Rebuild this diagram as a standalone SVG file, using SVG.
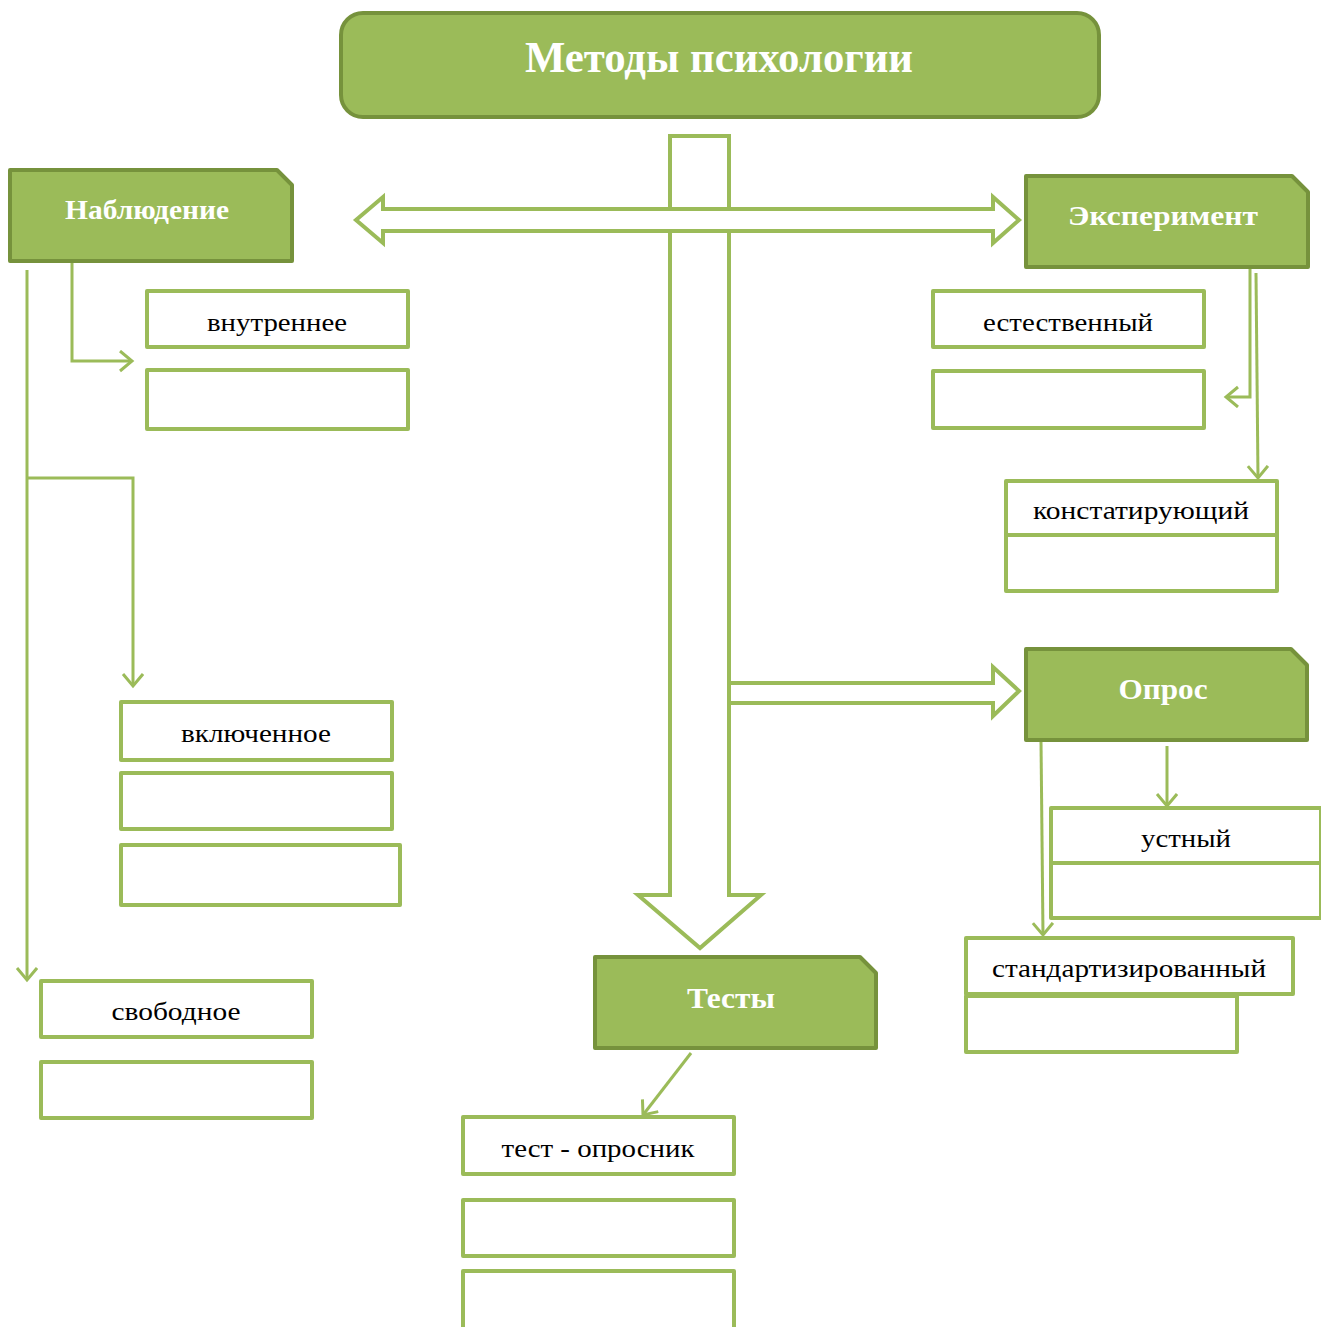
<svg xmlns="http://www.w3.org/2000/svg" width="1321" height="1327" viewBox="0 0 1321 1327">
<style>
.main{fill:#9BBB59;stroke:#76923C;stroke-width:4;stroke-linejoin:round}
.box{fill:#fff;stroke:#9BBB59;stroke-width:4;stroke-linejoin:round}
.big{fill:#fff;stroke:#9BBB59;stroke-width:4;stroke-linejoin:miter}
.con{fill:none;stroke:#9BBB59;stroke-width:3}
.ht{font-family:"Liberation Serif","Times New Roman",serif;font-weight:bold;fill:#fff;text-anchor:middle}
.bt{font-family:"Liberation Serif","Times New Roman",serif;font-size:26px;fill:#000;text-anchor:middle}
</style>
<defs>
<marker id="ah" markerUnits="userSpaceOnUse" markerWidth="16" markerHeight="24" refX="13" refY="11" orient="auto" viewBox="0 0 16 24">
<path d="M1,1 L13,11 L1,21" fill="none" stroke="#9BBB59" stroke-width="3"/>
</marker>
</defs>
<rect width="1321" height="1327" fill="#fff"/>

<g id="arrows-big">
<path class="big" d="M670,136 L729,136 L729,895 L761,895 L700,948 L638,895 L670,895 Z"/>
<path class="big" d="M356,220 L383,197 L383,209 L993,209 L993,197 L1019,220 L993,243 L993,231 L383,231 L383,243 Z"/>
<path class="big" d="M731,683 L993,683 L993,667 L1019,691 L993,716 L993,703 L731,703"/>
<line x1="729" y1="670" x2="729" y2="716" stroke="#9BBB59" stroke-width="4"/>
</g>

<g id="connectors">
<polyline class="con" points="72,262 72,361 132,361" marker-end="url(#ah)"/>
<polyline class="con" points="27,270 27,980" marker-end="url(#ah)"/>
<polyline class="con" points="27,478 133,478 133,686" marker-end="url(#ah)"/>
<polyline class="con" points="1250,267 1250,397 1226,397" marker-end="url(#ah)"/>
<polyline class="con" points="1256,273 1258,478" marker-end="url(#ah)"/>
<polyline class="con" points="1041,741 1043,935" marker-end="url(#ah)"/>
<polyline class="con" points="1167,746 1167,806" marker-end="url(#ah)"/>
<polyline class="con" points="691,1053 643,1115" marker-end="url(#ah)"/>
</g>

<g id="title">
<rect class="main" x="341" y="13" width="758" height="104" rx="22" ry="22"/>
<text class="ht" x="719" y="72" font-size="44" textLength="388" lengthAdjust="spacingAndGlyphs">Методы психологии</text>
</g>

<g id="nablyudenie">
<path class="main" d="M10,170 L277,170 L292,185 L292,261 L10,261 Z"/>
<text class="ht" x="147" y="219" font-size="27" textLength="164" lengthAdjust="spacingAndGlyphs">Наблюдение</text>
</g>

<g id="eksperiment">
<path class="main" d="M1026,176 L1292,176 L1308,192 L1308,267 L1026,267 Z"/>
<text class="ht" x="1163" y="225" font-size="27" textLength="190" lengthAdjust="spacingAndGlyphs">Эксперимент</text>
</g>

<g id="opros">
<path class="main" d="M1026,649 L1291,649 L1307,665 L1307,740 L1026,740 Z"/>
<text class="ht" x="1163" y="699" font-size="29" textLength="89" lengthAdjust="spacingAndGlyphs">Опрос</text>
</g>

<g id="testy">
<path class="main" d="M595,957 L860,957 L876,973 L876,1048 L595,1048 Z"/>
<text class="ht" x="731" y="1008" font-size="29" textLength="88" lengthAdjust="spacingAndGlyphs">Тесты</text>
</g>

<g id="vnutrennee">
<rect class="box" x="147" y="291" width="261" height="56"/>
<text class="bt" x="277" y="331" textLength="140" lengthAdjust="spacingAndGlyphs">внутреннее</text>
</g>
<g id="vnutrennee-2"><rect class="box" x="147" y="370" width="261" height="59"/></g>

<g id="estestvenny">
<rect class="box" x="933" y="291" width="271" height="56"/>
<text class="bt" x="1068" y="331" textLength="170" lengthAdjust="spacingAndGlyphs">естественный</text>
</g>
<g id="estestvenny-2"><rect class="box" x="933" y="371" width="271" height="57"/></g>

<g id="konstatiruyushchiy">
<rect class="box" x="1006" y="481" width="271" height="54"/>
<text class="bt" x="1141" y="519" textLength="216" lengthAdjust="spacingAndGlyphs">констатирующий</text>
</g>
<g id="konstatiruyushchiy-2"><rect class="box" x="1006" y="535" width="271" height="56"/></g>

<g id="vklyuchennoe">
<rect class="box" x="121" y="702" width="271" height="58"/>
<text class="bt" x="256" y="742" textLength="150" lengthAdjust="spacingAndGlyphs">включенное</text>
</g>
<g id="vklyuchennoe-2"><rect class="box" x="121" y="773" width="271" height="56"/></g>
<g id="vklyuchennoe-3"><rect class="box" x="121" y="845" width="279" height="60"/></g>

<g id="svobodnoe">
<rect class="box" x="41" y="981" width="271" height="56"/>
<text class="bt" x="176" y="1020" textLength="129" lengthAdjust="spacingAndGlyphs">свободное</text>
</g>
<g id="svobodnoe-2"><rect class="box" x="41" y="1062" width="271" height="56"/></g>

<g id="test-oprosnik">
<rect class="box" x="463" y="1117" width="271" height="57"/>
<text class="bt" x="598" y="1157" textLength="193" lengthAdjust="spacingAndGlyphs">тест - опросник</text>
</g>
<g id="test-2"><rect class="box" x="463" y="1200" width="271" height="56"/></g>
<g id="test-3"><rect class="box" x="463" y="1271" width="271" height="60"/></g>

<g id="ustny">
<rect class="box" x="1051" y="808" width="270" height="55"/>
<text class="bt" x="1186" y="847" textLength="90" lengthAdjust="spacingAndGlyphs">устный</text>
</g>
<g id="ustny-2"><rect class="box" x="1051" y="863" width="270" height="55"/></g>

<g id="standartizirovanny">
<rect class="box" x="966" y="938" width="327" height="56"/>
<text class="bt" x="1129" y="977" textLength="274" lengthAdjust="spacingAndGlyphs">стандартизированный</text>
</g>
<g id="standartizirovanny-2"><rect class="box" x="966" y="996" width="271" height="56"/></g>
</svg>
